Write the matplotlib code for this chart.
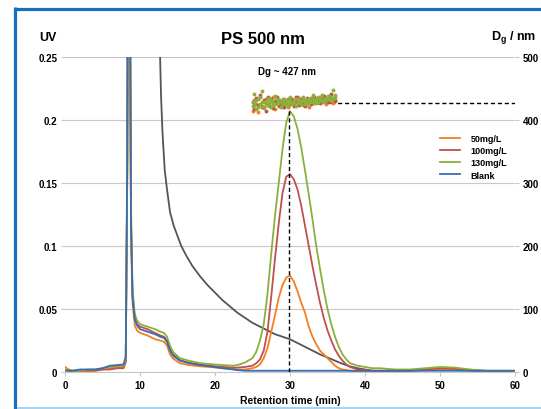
import matplotlib
matplotlib.use("Agg")
import matplotlib.pyplot as plt
from matplotlib.lines import Line2D

plt.rcParams['font.family'] = ['Liberation Sans', 'DejaVu Sans']
plt.rcParams['font.weight'] = 'bold'
plt.rcParams['mathtext.fontset'] = 'custom'
plt.rcParams['mathtext.rm'] = 'Liberation Sans:bold'

# retention time grid for the UV traces (min)
t_uv = [0, 0.5, 1, 2, 3, 4, 5, 6, 7, 7.8,
        8.1, 8.3, 8.45, 8.6, 8.8, 9.0, 9.3, 9.6,
        10, 11, 12, 12.7, 13.2, 13.6, 14.0, 14.4, 15.3, 16.5, 18, 19.3, 21, 22.4, 23, 24,
        25, 25.5, 26, 26.5, 27, 27.5, 28, 28.5, 29, 29.5,
        30, 30.5, 31, 31.5, 32, 32.5, 33, 33.5, 34, 34.5,
        35, 35.5, 36, 36.5, 37, 37.5, 38, 39, 40, 41,
        42, 44, 46, 48, 50, 52, 54, 56, 58, 60]

uv_50 = [0.004, 0.002, 0.001, 0.001, 0.001, 0.001, 0.002, 0.003, 0.004, 0.004,
         0.008, 0.15, 0.45, 0.40, 0.11, 0.055, 0.037, 0.033,
         0.031, 0.029, 0.026, 0.025, 0.024, 0.021, 0.014, 0.0107, 0.007, 0.0055, 0.0045, 0.004, 0.003, 0.0025, 0.002, 0.002,
         0.003, 0.004, 0.006, 0.011, 0.019, 0.032, 0.045, 0.059, 0.069, 0.075,
         0.0765, 0.072, 0.064, 0.055, 0.047, 0.036, 0.028, 0.022, 0.017, 0.014,
         0.011, 0.008, 0.005, 0.003, 0.002, 0.0015, 0.001, 0.0005, 0.0005, 0.0005,
         0.0005, 0.0005, 0.001, 0.0015, 0.002, 0.0015, 0.001, 0.0005, 0.0005, 0.0005]

uv_100 = [0.002, 0.001, 0.001, 0.001, 0.001, 0.001, 0.002, 0.002, 0.003, 0.003,
          0.008, 0.16, 0.45, 0.40, 0.12, 0.062, 0.043, 0.038,
          0.036, 0.034, 0.031, 0.029, 0.028, 0.025, 0.018, 0.014, 0.0095, 0.0075, 0.006, 0.005, 0.004, 0.0035, 0.0035, 0.004,
          0.005, 0.007, 0.010, 0.017, 0.032, 0.060, 0.090, 0.118, 0.142, 0.155,
          0.157, 0.153, 0.145, 0.132, 0.116, 0.100, 0.084, 0.069, 0.055, 0.043,
          0.033, 0.025, 0.018, 0.013, 0.009, 0.006, 0.004, 0.002, 0.0015, 0.001,
          0.001, 0.001, 0.001, 0.002, 0.003, 0.0025, 0.0015, 0.001, 0.0005, 0.0005]

uv_130 = [0.002, 0.001, 0.001, 0.001, 0.002, 0.002, 0.003, 0.004, 0.005, 0.005,
          0.010, 0.16, 0.45, 0.40, 0.13, 0.065, 0.046, 0.041,
          0.038, 0.036, 0.034, 0.032, 0.031, 0.028, 0.021, 0.016, 0.011, 0.009, 0.007, 0.0063, 0.0055, 0.005, 0.0055, 0.0075,
          0.011, 0.016, 0.025, 0.038, 0.062, 0.094, 0.124, 0.150, 0.177, 0.198,
          0.207, 0.203, 0.193, 0.178, 0.160, 0.141, 0.121, 0.100, 0.082, 0.065,
          0.050, 0.038, 0.028, 0.020, 0.014, 0.010, 0.007, 0.005, 0.004, 0.003,
          0.003, 0.002, 0.002, 0.003, 0.004, 0.0035, 0.002, 0.001, 0.001, 0.001]

uv_blank = [0.001, 0.001, 0.001, 0.002, 0.002, 0.002, 0.003, 0.005, 0.0055, 0.006,
            0.012, 0.17, 0.46, 0.41, 0.12, 0.060, 0.042, 0.037,
            0.034, 0.032, 0.030, 0.028, 0.027, 0.024, 0.017, 0.013, 0.009, 0.007, 0.0055, 0.0045, 0.003, 0.002, 0.0015, 0.001,
            0.001, 0.001, 0.001, 0.001, 0.001, 0.001, 0.001, 0.001, 0.001, 0.001,
            0.001, 0.001, 0.001, 0.001, 0.001, 0.001, 0.001, 0.001, 0.001, 0.001,
            0.001, 0.001, 0.001, 0.001, 0.001, 0.001, 0.001, 0.001, 0.001, 0.001,
            0.001, 0.001, 0.001, 0.001, 0.001, 0.001, 0.001, 0.001, 0.001, 0.001]

# grey decaying trace
t_grey = [12.4, 12.6, 12.8, 13.0, 13.3, 13.6, 14.0, 14.5, 15.0, 15.5,
          16.2, 17, 18, 19, 20, 21, 22, 23, 24, 25,
          26, 27, 28, 29, 30, 31, 32, 33, 34, 35,
          36, 37, 38, 39, 40, 41, 42]
uv_grey = [0.40, 0.27, 0.22, 0.19, 0.16, 0.145, 0.127, 0.116, 0.108, 0.100,
           0.092, 0.084, 0.076, 0.069, 0.063, 0.057, 0.052, 0.047, 0.043, 0.039,
           0.036, 0.033, 0.030, 0.028, 0.026, 0.023, 0.020, 0.017, 0.014, 0.0115,
           0.009, 0.0065, 0.0045, 0.003, 0.002, 0.001, 0.0]

# Dg points (nm)
t_dg = [25.0, 25.25, 25.5, 25.75, 26.0, 26.25, 26.5, 26.75, 27.0,
        27.25, 27.5, 27.75, 28.0, 28.25, 28.5, 28.75, 29.0, 29.25,
        29.5, 29.75, 30.0, 30.25, 30.5, 30.75, 31.0, 31.25, 31.5,
        31.75, 32.0, 32.25, 32.5, 32.75, 33.0, 33.25, 33.5, 33.75,
        34.0, 34.25, 34.5, 34.75, 35.0, 35.25, 35.5, 35.75, 36.0]
dg_50 = [415, 431, 425, 412, 437, 428, 420, 434, 426,
         423, 430, 436, 418, 427, 432, 425, 421, 434,
         429, 421, 427, 434, 425, 430, 437, 426, 431,
         424, 432, 428, 421, 435, 430, 427, 433, 429,
         436, 428, 431, 425, 433, 430, 437, 427, 432]
dg_100 = [428, 418, 435, 424, 439, 421, 432, 415, 436,
          426, 433, 419, 430, 437, 423, 428, 432, 421,
          427, 433, 425, 431, 422, 436, 428, 424, 433,
          429, 423, 435, 430, 426, 433, 437, 429, 431,
          427, 434, 438, 430, 436, 429, 441, 434, 430]
dg_130 = [422, 441, 417, 433, 426, 446, 419, 430, 424,
          435, 421, 429, 438, 425, 431, 420, 434, 427,
          430, 424, 436, 428, 432, 422, 433, 429, 426,
          437, 430, 425, 434, 428, 439, 431, 427, 436,
          432, 440, 429, 435, 433, 438, 431, 448, 436]
dg_130b = [428, 424, 432, 420, 436, 423, 429, 426, 433,
           427, 431, 424, 426, 433, 428, 430, 425, 431,
           426, 432, 429, 425, 430, 434, 427, 432, 430,
           431, 426, 433, 429, 435, 428, 434, 431, 429,
           435, 430, 434, 431, 438, 433, 436, 434, 440]

peak_t = 29.9
dg_mean = 427

c_orange = '#F57F20'
c_red = '#C0504D'
c_green = '#8AB03C'
c_blue = '#3A6DB0'
c_grey = '#555555'
grid_c = '#C8C8C8'

fig = plt.figure(figsize=(5.41, 4.10), dpi=100)
ax = fig.add_axes([65 / 541, 37 / 410, 450 / 541, 315 / 410])

ax.plot(t_grey, uv_grey, color=c_grey, lw=1.3, zorder=2)
ax.plot(t_uv, uv_50, color=c_orange, lw=1.3, label='50mg/L', zorder=3)
ax.plot(t_uv, uv_100, color=c_red, lw=1.3, label='100mg/L', zorder=4)
ax.plot(t_uv, uv_130, color=c_green, lw=1.3, label='130mg/L', zorder=5)
ax.plot(t_uv, uv_blank, color=c_blue, lw=1.3, label='Blank', zorder=6)

ax.set_xlim(0, 60)
ax.set_ylim(0, 0.25)
ax.set_xticks([0, 10, 20, 30, 40, 50, 60])
ax.set_yticks([0, 0.05, 0.1, 0.15, 0.2, 0.25])
ax.set_yticklabels(['0', '0.05', '0.1', '0.15', '0.2', '0.25'])
ax.yaxis.grid(True, color=grid_c, lw=0.8)
ax.set_axisbelow(True)
for s in ['top', 'left', 'right']:
    ax.spines[s].set_visible(False)
ax.spines['bottom'].set_color(grid_c)
ax.tick_params(axis='both', labelsize=7, colors='#000000', length=3, pad=2.5)
ax.tick_params(axis='both', color=grid_c)
ax.set_xlabel('Retention time (min)', fontsize=7.5, fontweight='bold', labelpad=4)

ax2 = ax.twinx()
ax2.set_ylim(0, 500)
ax2.set_yticks([0, 100, 200, 300, 400, 500])
for s in ['top', 'left', 'right', 'bottom']:
    ax2.spines[s].set_visible(False)
ax2.tick_params(axis='y', labelsize=7, length=3, pad=2.5, color=grid_c)

ax2.plot([peak_t, peak_t], [0, dg_mean], color='black', lw=1, ls=(0, (3, 2)), zorder=3)
ax2.plot([peak_t, 60], [dg_mean, dg_mean], color='black', lw=1, ls=(0, (3, 2)), zorder=3)
ax2.plot(t_dg, dg_50, 'o', color=c_orange, ms=2.8, mew=0, zorder=4)
ax2.plot(t_dg, dg_100, 'o', color=c_red, ms=2.8, mew=0, zorder=5)
ax2.plot(t_dg, dg_130, 'o', color=c_green, ms=2.8, mew=0, zorder=6)
ax2.plot(t_dg, dg_130b, 'o', color=c_green, ms=2.8, mew=0, zorder=6)

handles, labels = ax.get_legend_handles_labels()
ax2.legend(handles, labels, loc='upper left', bbox_to_anchor=(432 / 541, 1 - 127 / 410),
           bbox_transform=fig.transFigure, frameon=False, fontsize=6.5,
           handlelength=2.2, handletextpad=1.2, labelspacing=0.35)

fig.text(48 / 541, 1 - 38 / 410, 'UV', ha='center', va='center', fontsize=9, fontweight='bold')
fig.text(263 / 541, 1 - 40 / 410, 'PS 500 nm', ha='center', va='center', fontsize=12, fontweight='bold')
fig.text(514 / 541, 1 - 38 / 410, r'D$_\mathrm{g}$ / nm', ha='center', va='center', fontsize=9, fontweight='bold')
fig.text(287 / 541, 1 - 72 / 410, 'Dg ~ 427 nm', ha='center', va='center', fontsize=7, fontweight='bold')

# blue frame
fig.add_artist(Line2D([15.5 / 541, 15.5 / 541], [0, 1 - 8 / 410], color='#1670BE', lw=2.3,
                      transform=fig.transFigure, solid_capstyle='butt'))
fig.add_artist(Line2D([14 / 541, 1], [1 - 9.5 / 410, 1 - 9.5 / 410], color='#1670BE', lw=2.3,
                      transform=fig.transFigure, solid_capstyle='butt'))
fig.add_artist(Line2D([17 / 541, 1], [1.5 / 410, 1.5 / 410], color='#A9D2EC', lw=1.5,
                      transform=fig.transFigure, solid_capstyle='butt'))

fig.savefig('out.png', dpi=100)
